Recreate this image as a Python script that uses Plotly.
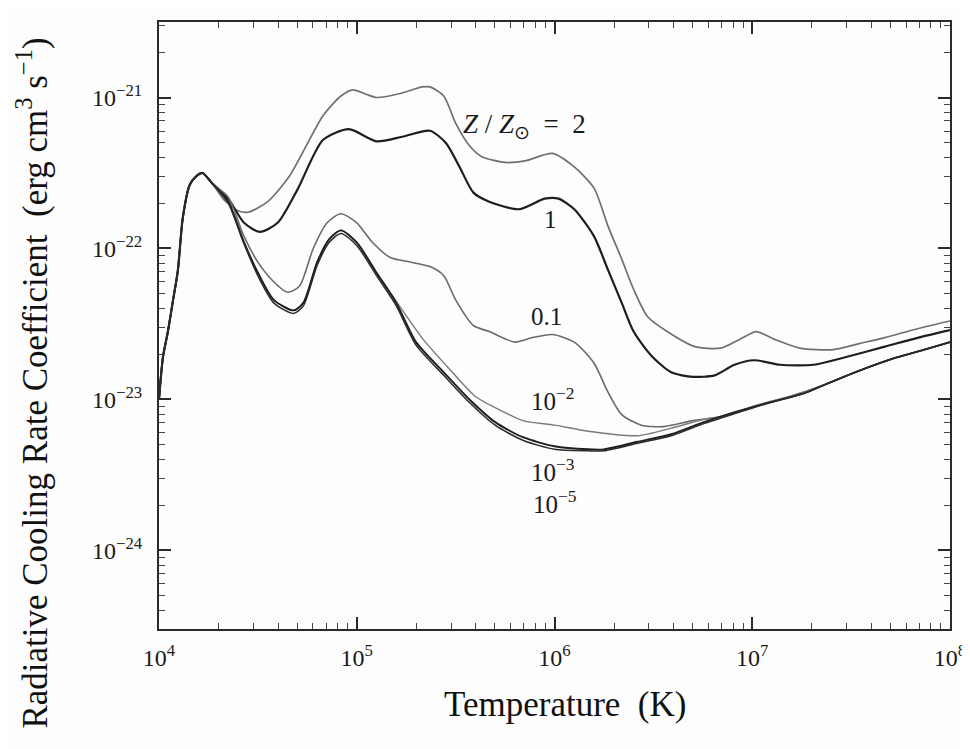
import numpy as np
import plotly.graph_objects as go

# ---- data (log10 T [K], log10 Lambda [erg cm^3 s^-1]) ----
logT_z2 = [4.00, 4.02, 4.045, 4.07, 4.095, 4.12, 4.155, 4.19, 4.22, 4.27, 4.33, 4.40, 4.45,
           4.55, 4.66, 4.83, 4.92, 4.98, 5.05, 5.10, 5.23, 5.33, 5.37, 5.44, 5.50, 5.57,
           5.63, 5.75, 5.85, 5.99, 6.10, 6.20, 6.27, 6.34, 6.40, 6.47, 6.57, 6.71, 6.84,
           6.94, 7.02, 7.11, 7.24, 7.41, 7.54, 7.67, 7.84, 8.00]
logL_z2 = [-23.00, -22.72, -22.55, -22.35, -22.15, -21.80, -21.58, -21.52, -21.50, -21.57,
           -21.68, -21.75, -21.76, -21.69, -21.52, -21.12, -20.99, -20.95, -20.98, -21.00,
           -20.97, -20.93, -20.93, -20.99, -21.17, -21.32, -21.39, -21.43, -21.42, -21.37,
           -21.46, -21.60, -21.85, -22.07, -22.27, -22.45, -22.55, -22.65, -22.66, -22.60,
           -22.55, -22.60, -22.66, -22.67, -22.63, -22.59, -22.53, -22.48]

logT_z1 = [4.00, 4.02, 4.045, 4.07, 4.095, 4.12, 4.155, 4.19, 4.22, 4.27, 4.35, 4.43, 4.51,
           4.60, 4.70, 4.83, 4.96, 5.10, 5.23, 5.37, 5.45, 5.52, 5.59, 5.67, 5.82, 5.95,
           6.02, 6.10, 6.20, 6.27, 6.34, 6.40, 6.49, 6.59, 6.70, 6.81, 6.91, 7.01, 7.14,
           7.31, 7.47, 7.67, 7.84, 8.00]
logL_z1 = [-23.00, -22.72, -22.55, -22.35, -22.15, -21.80, -21.58, -21.52, -21.50, -21.57,
           -21.67, -21.83, -21.89, -21.83, -21.61, -21.28, -21.21, -21.29, -21.26, -21.22,
           -21.30, -21.46, -21.63, -21.69, -21.74, -21.67, -21.67, -21.74, -21.92, -22.14,
           -22.36, -22.55, -22.71, -22.82, -22.85, -22.84, -22.77, -22.74, -22.77, -22.77,
           -22.72, -22.65, -22.59, -22.54]

logT_z01 = [4.00, 4.02, 4.045, 4.07, 4.095, 4.12, 4.155, 4.19, 4.22, 4.27, 4.35, 4.43, 4.50,
            4.58, 4.65, 4.71, 4.78, 4.85, 4.92, 5.00, 5.08, 5.17, 5.27, 5.37, 5.44, 5.50,
            5.59, 5.67, 5.80, 5.89, 5.99, 6.10, 6.20, 6.27, 6.34, 6.44, 6.55, 6.70, 6.86,
            7.02, 7.19, 7.37, 7.54, 7.71, 7.87, 8.00]
logL_z01 = [-23.00, -22.72, -22.55, -22.35, -22.15, -21.80, -21.58, -21.52, -21.50, -21.57,
            -21.66, -21.92, -22.09, -22.22, -22.29, -22.25, -22.00, -21.83, -21.77, -21.83,
            -21.96, -22.06, -22.09, -22.12, -22.18, -22.34, -22.51, -22.55, -22.62, -22.59,
            -22.57, -22.62, -22.76, -22.95, -23.10, -23.17, -23.18, -23.14, -23.11, -23.04,
            -22.98, -22.90, -22.81, -22.73, -22.67, -22.62]

logT_z1e2 = [4.00, 4.02, 4.045, 4.07, 4.095, 4.12, 4.155, 4.19, 4.22, 4.27, 4.35, 4.43, 4.50,
             4.58, 4.68, 4.73, 4.80, 4.86, 4.92, 5.00, 5.10, 5.20, 5.335, 5.47, 5.60, 5.74,
             5.84, 6.00, 6.17, 6.42, 6.59, 6.76, 6.86, 7.02, 7.19, 7.37, 7.54, 7.71, 7.87, 8.00]
logL_z1e2 = [-23.00, -22.72, -22.55, -22.35, -22.15, -21.80, -21.58, -21.52, -21.50, -21.57,
             -21.69, -21.96, -22.16, -22.34, -22.41, -22.36, -22.09, -21.94, -21.88, -21.96,
             -22.16, -22.35, -22.60, -22.80, -22.98, -23.08, -23.14, -23.17, -23.21, -23.24,
             -23.19, -23.13, -23.11, -23.04, -22.98, -22.90, -22.81, -22.73, -22.67, -22.62]

logT_z1e3 = [4.00, 4.02, 4.045, 4.07, 4.095, 4.12, 4.155, 4.19, 4.22, 4.27, 4.35, 4.43, 4.50,
             4.58, 4.68, 4.73, 4.80, 4.86, 4.92, 5.00, 5.10, 5.20, 5.30, 5.44, 5.57, 5.70,
             5.84, 6.00, 6.17, 6.25, 6.42, 6.59, 6.755, 6.92, 7.09, 7.26, 7.37, 7.54, 7.71,
             7.87, 8.00]
logL_z1e3 = [-23.00, -22.72, -22.55, -22.35, -22.15, -21.80, -21.58, -21.52, -21.50, -21.57,
             -21.69, -21.96, -22.16, -22.34, -22.41, -22.36, -22.09, -21.94, -21.88, -21.96,
             -22.16, -22.36, -22.62, -22.82, -23.00, -23.15, -23.25, -23.31, -23.33, -23.33,
             -23.28, -23.23, -23.15, -23.08, -23.02, -22.96, -22.90, -22.81, -22.73, -22.67,
             -22.62]

logT_z1e5 = [4.00, 4.02, 4.045, 4.07, 4.095, 4.12, 4.155, 4.19, 4.22, 4.27, 4.35, 4.43, 4.50,
             4.58, 4.68, 4.73, 4.80, 4.86, 4.92, 5.00, 5.10, 5.20, 5.30, 5.44, 5.57, 5.70,
             5.84, 6.00, 6.17, 6.25, 6.42, 6.59, 6.755, 6.92, 7.09, 7.26, 7.37, 7.54, 7.71,
             7.87, 8.00]
logL_z1e5 = [-23.00, -22.72, -22.55, -22.35, -22.15, -21.80, -21.58, -21.52, -21.50, -21.57,
             -21.70, -21.97, -22.18, -22.36, -22.43, -22.38, -22.11, -21.96, -21.90, -21.98,
             -22.18, -22.38, -22.64, -22.84, -23.02, -23.17, -23.27, -23.33, -23.34, -23.34,
             -23.29, -23.24, -23.16, -23.09, -23.02, -22.96, -22.90, -22.81, -22.73, -22.67,
             -22.62]

x_tick_exps = [4, 5, 6, 7, 8]
y_tick_exps = [-24, -23, -22, -21]

curve_labels = ["<i>Z</i> / <i>Z</i><sub>⊙</sub>  =  2", "1", "0.1", "10<sup>−2</sup>",
                "10<sup>−3</sup>", "10<sup>−5</sup>"]
label_logT = [5.85, 5.98, 5.96, 5.99, 5.99, 6.00]
label_logL = [-21.19, -21.81, -22.45, -23.00, -23.47, -23.68]

# ---- figure ----
SERIF = "Liberation Serif, Times New Roman, serif"
series = [
    (logT_z2, logL_z2, "#707070", 1.7),
    (logT_z1, logL_z1, "#1e1e1e", 2.2),
    (logT_z01, logL_z01, "#6a6a6a", 1.6),
    (logT_z1e2, logL_z1e2, "#7a7a7a", 1.4),
    (logT_z1e3, logL_z1e3, "#1e1e1e", 1.9),
    (logT_z1e5, logL_z1e5, "#2a2a2a", 1.5),
]

fig = go.Figure()
for lt, ll, col, w in series:
    fig.add_trace(go.Scatter(
        x=10 ** np.array(lt), y=10 ** np.array(ll), mode="lines",
        line=dict(color=col, width=w, shape="spline", smoothing=0.7),
        showlegend=False, hoverinfo="skip"))

for i, (txt, lt, ll) in enumerate(zip(curve_labels, label_logT, label_logL)):
    fig.add_annotation(x=lt, y=ll, xref="x", yref="y", text=txt, showarrow=False,
                       xanchor="center", yanchor="middle",
                       font=dict(family=SERIF, size=27 if i == 0 else 25, color="#1a1a1a"))

minor_x = [m * 10 ** e for e in range(4, 8) for m in range(2, 10)]
minor_y = [m * 10 ** e for e in range(-25, -20) for m in range(2, 10)]

axis_common = dict(
    type="log", showline=True, linecolor="#2a2a2a", linewidth=2, mirror="allticks",
    ticks="inside", ticklen=12, tickwidth=1.6, tickcolor="#2a2a2a",
    showgrid=False, zeroline=False,
    tickfont=dict(family=SERIF, size=24, color="#1a1a1a"),
)

fig.update_xaxes(
    range=[4, 8],
    tickmode="array",
    tickvals=[10 ** e for e in x_tick_exps],
    ticktext=[f"10<sup>{e}</sup>" for e in x_tick_exps],
    ticklabelstandoff=6,
    minor=dict(tickmode="array", tickvals=minor_x, ticks="inside", ticklen=6,
               tickwidth=1.1, tickcolor="#444", showgrid=False),
    **axis_common)
fig.update_yaxes(
    range=[-24.52, -20.5],
    tickmode="array",
    tickvals=[10 ** e for e in y_tick_exps],
    ticktext=[f"10<sup>−{abs(e)}</sup>" for e in y_tick_exps],
    ticklabelstandoff=10,
    minor=dict(tickmode="array", tickvals=minor_y, ticks="inside", ticklen=6,
               tickwidth=1.1, tickcolor="#444", showgrid=False),
    **axis_common)

fig.add_annotation(xref="paper", yref="paper", x=0.513, y=-0.125,
                   text="Temperature  (K)", showarrow=False,
                   xanchor="center", yanchor="middle",
                   font=dict(family=SERIF, size=35, color="#111"))
fig.add_annotation(xref="paper", yref="paper", x=-0.16, y=0.405, textangle=-90,
                   text="Radiative Cooling Rate Coefficient  (erg cm<sup>3</sup> s<sup>−1</sup>)",
                   showarrow=False, xanchor="center", yanchor="middle",
                   font=dict(family=SERIF, size=35, color="#111"))

fig.update_layout(
    width=970, height=749,
    margin=dict(l=151, r=22, t=13, b=128),
    paper_bgcolor="#fcfdfc", plot_bgcolor="#fcfdfc",
)

fig.write_html("out.html")
